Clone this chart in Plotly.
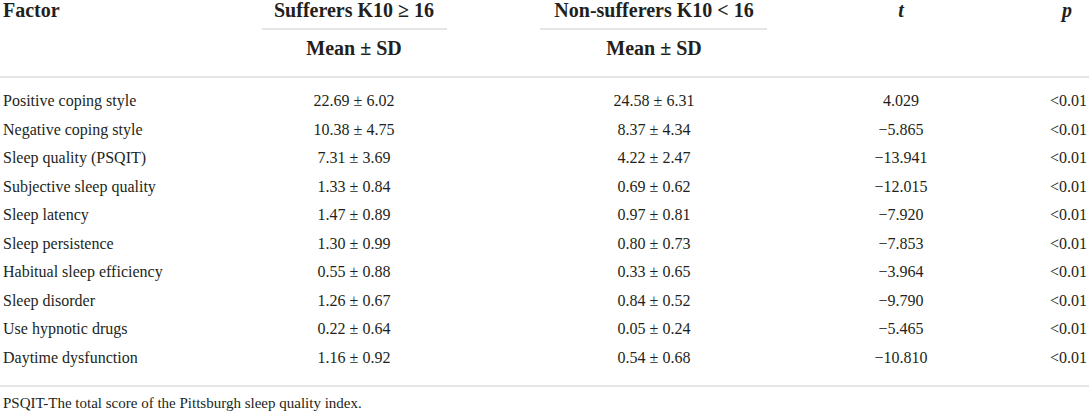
import plotly.graph_objects as go

factors = ["Positive coping style", "Negative coping style", "Sleep quality (PSQIT)",
           "Subjective sleep quality", "Sleep latency", "Sleep persistence",
           "Habitual sleep efficiency", "Sleep disorder", "Use hypnotic drugs",
           "Daytime dysfunction"]
suf_mean = ["22.69", "10.38", "7.31", "1.33", "1.47", "1.30", "0.55", "1.26", "0.22", "1.16"]
suf_sd = ["6.02", "4.75", "3.69", "0.84", "0.89", "0.99", "0.88", "0.67", "0.64", "0.92"]
non_mean = ["24.58", "8.37", "4.22", "0.69", "0.97", "0.80", "0.33", "0.84", "0.05", "0.54"]
non_sd = ["6.31", "4.34", "2.47", "0.62", "0.81", "0.73", "0.65", "0.52", "0.24", "0.68"]
t_vals = ["4.029", "−5.865", "−13.941", "−12.015", "−7.920", "−7.853", "−3.964", "−9.790", "−5.465", "−10.810"]
p_vals = ["<0.01"] * 10
headers = ["Factor", "Sufferers K10 ≥ 16", "Non-sufferers K10 < 16", "t", "p"]
subheader = "Mean ± SD"
footnote = "PSQIT-The total score of the Pittsburgh sleep quality index."

W, H = 1089, 413
FONT = "Liberation Serif"
TXT = "#231f20"
LINE = "#cccccc"

row_y0, row_dy = 102, 28.5
rows_y = [row_y0 + i * row_dy for i in range(len(factors))]

X_FACTOR, X_SUF, X_NON, X_T, X_P, X_PR = 3, 354, 654, 901, 1067, 1087
BODY, HEAD, FOOT = 16, 20, 15

fig = go.Figure()

def text_trace(xs, ys, texts, pos, size=BODY, bold=False, italic=False):
    fig.add_trace(go.Scatter(
        x=xs, y=ys, text=texts, mode="text", textposition=pos, cliponaxis=False,
        textfont=dict(family=FONT, size=size, color=TXT,
                      weight="bold" if bold else "normal",
                      style="italic" if italic else "normal"),
        hoverinfo="skip", showlegend=False))

# body
text_trace([X_FACTOR] * len(factors), rows_y, factors, "middle right")
text_trace([X_SUF] * len(factors), rows_y, [f"{m} ± {s}" for m, s in zip(suf_mean, suf_sd)], "middle center")
text_trace([X_NON] * len(factors), rows_y, [f"{m} ± {s}" for m, s in zip(non_mean, non_sd)], "middle center")
text_trace([X_T] * len(factors), rows_y, t_vals, "middle center")
text_trace([X_PR] * len(factors), rows_y, p_vals, "middle left")

# headers
text_trace([X_FACTOR], [12], [headers[0]], "middle right", size=HEAD, bold=True)
text_trace([X_SUF, X_NON], [12, 12], headers[1:3], "middle center", size=HEAD, bold=True)
text_trace([X_SUF, X_NON], [50, 50], [subheader, subheader], "middle center", size=HEAD, bold=True)
text_trace([X_T], [12], [headers[3]], "middle center", size=HEAD, bold=True, italic=True)
text_trace([X_P], [12], [headers[4]], "middle center", size=HEAD, bold=True, italic=True)

# footnote
text_trace([X_FACTOR], [404], [footnote], "middle right", size=FOOT)

shapes = [
    dict(type="line", x0=262, x1=447, y0=29, y1=29),
    dict(type="line", x0=540, x1=767, y0=29, y1=29),
    dict(type="line", x0=0, x1=W, y0=77, y1=77),
    dict(type="line", x0=0, x1=W, y0=386, y1=386),
]
for s in shapes:
    s.update(xref="x", yref="y", line=dict(color=LINE, width=1.2), layer="below")

fig.update_layout(
    width=W, height=H, margin=dict(l=0, r=0, t=0, b=0),
    paper_bgcolor="white", plot_bgcolor="white",
    xaxis=dict(range=[0, W], visible=False, fixedrange=True),
    yaxis=dict(range=[H, 0], visible=False, fixedrange=True),
    shapes=shapes,
)

fig.write_html("out.html", config={"displayModeBar": False},
               post_script="document.body.style.margin='0';document.body.style.overflow='hidden';")
